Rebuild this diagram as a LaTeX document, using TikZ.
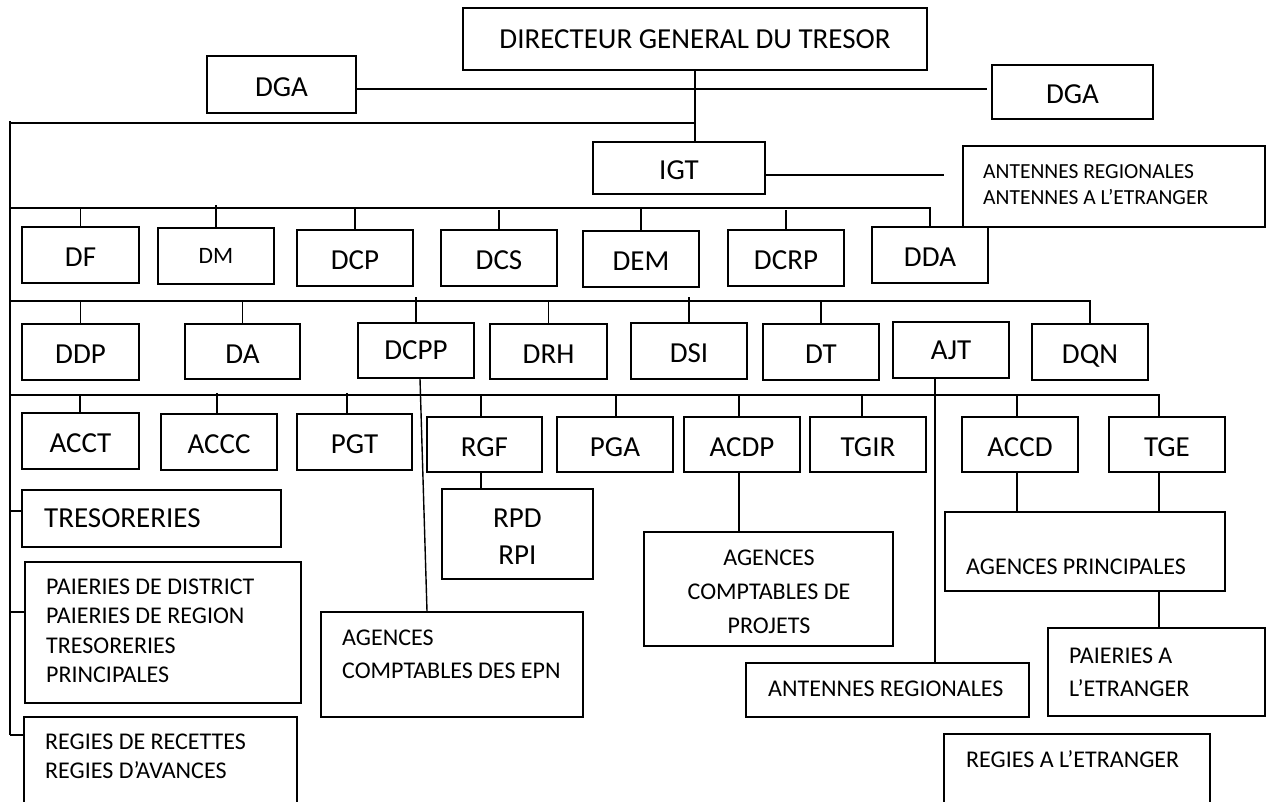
\documentclass[tikz,border=0pt]{standalone}
\usepackage{fontspec}
\setmainfont{Carlito}
\usetikzlibrary{fit}
\begin{document}
\begin{tikzpicture}[x=1pt,y=-1pt,
  box/.style={draw, line width=1.6pt, inner sep=0pt},
  big/.style={font=\fontsize{29}{34}\selectfont, text height=23.7pt, text depth=0pt},
  bigtop/.style={font=\fontsize{29}{34}\selectfont, text height=18.7pt, text depth=0pt},
  dmf/.style={font=\fontsize{23.5}{28}\selectfont, text height=15pt, text depth=0pt},
  mid/.style={font=\fontsize{24}{29}\selectfont, anchor=base west, inner sep=0pt},
  midc/.style={font=\fontsize{24}{29}\selectfont, anchor=base, inner sep=0pt},
  sml/.style={font=\fontsize{21.5}{26}\selectfont, anchor=base west, inner sep=0pt},
  bigt/.style={font=\fontsize{29}{34}\selectfont, anchor=base west, inner sep=0pt},
  bigc/.style={font=\fontsize{29}{34}\selectfont, text height=18.7pt, text depth=0pt, inner sep=0pt},
  ln/.style={line width=1.4pt}
]
\useasboundingbox (0,0) rectangle (1269,801);
\clip (0,0) rectangle (1269,801);

% top level
\node[box,bigtop,minimum width=464,minimum height=62] (dgt) at (695,39) {DIRECTEUR GENERAL DU TRESOR};
\node[box,big,minimum width=149,minimum height=57] (dgaL) at (281.5,84.5) {DGA};
\node[box,big,minimum width=161,minimum height=54] (dgaR) at (1072.5,92) {DGA};
\node[box,big,minimum width=172,minimum height=52] (igt) at (679,168) {IGT};
\node[box,fit={(963,146)(1265,227)}] (antA) {};
\node[sml] (antA1) at (983,178) {ANTENNES REGIONALES};
\node[sml] (antA2) at (983,204) {ANTENNES A L’ETRANGER};

% row 1
\node[box,big,minimum width=117,minimum height=56] (df) at (80.5,255) {DF};
\node[box,dmf,minimum width=116,minimum height=56] (dm) at (216,256) {DM};
\node[box,big,minimum width=116,minimum height=56] (dcp) at (355,258) {DCP};
\node[box,big,minimum width=116,minimum height=56] (dcs) at (499,258) {DCS};
\node[box,big,minimum width=116,minimum height=56] (dem) at (641,259) {DEM};
\node[box,big,minimum width=116,minimum height=56] (dcrp) at (786,258) {DCRP};
\node[box,big,minimum width=116,minimum height=56] (dda) at (930,255) {DDA};

% row 2
\node[box,big,minimum width=117,minimum height=56] (ddp) at (80.5,352) {DDP};
\node[box,big,minimum width=115,minimum height=55] (da) at (242.5,351.5) {DA};
\node[box,bigtop,minimum width=116,minimum height=55] (dcpp) at (416,350.5) {DCPP};
\node[box,big,minimum width=117,minimum height=55] (drh) at (548.5,351.5) {DRH};
\node[box,big,minimum width=116,minimum height=56] (dsi) at (689,351) {DSI};
\node[box,big,minimum width=116,minimum height=56] (dt) at (821,352) {DT};
\node[box,bigtop,minimum width=116,minimum height=56] (ajt) at (951,350) {AJT};
\node[box,big,minimum width=116,minimum height=56] (dqn) at (1090,352) {DQN};

% row 3
\node[box,big,minimum width=117,minimum height=56] (acct) at (80.5,441) {ACCT};
\node[box,big,minimum width=116,minimum height=56] (accc) at (219,442) {ACCC};
\node[box,big,minimum width=115,minimum height=56] (pgt) at (354.5,442) {PGT};
\node[box,big,minimum width=115,minimum height=55] (rgf) at (484.5,444.5) {RGF};
\node[box,big,minimum width=116,minimum height=55] (pga) at (615,444.5) {PGA};
\node[box,big,minimum width=116,minimum height=55] (acdp) at (742,444.5) {ACDP};
\node[box,big,minimum width=116,minimum height=55] (tgir) at (868,444.5) {TGIR};
\node[box,big,minimum width=116,minimum height=55] (accd) at (1020,444.5) {ACCD};
\node[box,big,minimum width=116,minimum height=55] (tge) at (1167,444.5) {TGE};

% lower boxes
\node[box,fit={(442,489)(593,579)}] (rpd) {};
\node[bigc] (rpd1) at (517.5,518) {RPD};
\node[bigc] (rpd2) at (517.5,555) {RPI};

\node[box,fit={(22,490)(281,547)}] (tres) {};
\node[bigt] (tres1) at (44,527.3) {TRESORERIES};

\node[box,fit={(25,562)(301,703)}] (paier) {};
\node[mid] (paier1) at (46,594.7) {PAIERIES DE DISTRICT};
\node[mid] (paier2) at (46,623.7) {PAIERIES DE REGION};
\node[mid] (paier3) at (46,653.7) {TRESORERIES};
\node[mid] (paier4) at (46,682.7) {PRINCIPALES};

\node[box,fit={(24,717)(297,830)}] (regies) {};
\node[mid] (regies1) at (45,749.7) {REGIES DE RECETTES};
\node[mid] (regies2) at (45,778.7) {REGIES D’AVANCES};

\node[box,fit={(321,612)(583,717)}] (epn) {};
\node[mid] (epn1) at (342,645.7) {AGENCES};
\node[mid] (epn2) at (342,678.7) {COMPTABLES DES EPN};

\node[box,fit={(644,532)(893,646)}] (apj) {};
\node[midc] (apj1) at (769,565.7) {AGENCES};
\node[midc] (apj2) at (769,599.7) {COMPTABLES DE};
\node[midc] (apj3) at (769,633.7) {PROJETS};

\node[box,fit={(945,512)(1225,591)}] (agp) {};
\node[mid] (agp1) at (966,574.7) {AGENCES PRINCIPALES};

\node[box,fit={(1048,628)(1265,716)}] (paiet) {};
\node[mid] (paiet1) at (1069,663.7) {PAIERIES A};
\node[mid] (paiet2) at (1069,696.7) {L’ETRANGER};

\node[box,fit={(746,663)(1029,717)}] (antR) {};
\node[mid] (antR1) at (768,696.7) {ANTENNES REGIONALES};

\node[box,fit={(944,734)(1210,830)}] (regE) {};
\node[mid] (regE1) at (966,767.7) {REGIES A L’ETRANGER};

% connectors: top
\coordinate (tk) at (695,123);
\coordinate (lt) at (10,121);
\coordinate (lb) at (10,735);
\draw[ln] (dgt.south -| tk) -- (igt.north -| tk);
\draw[ln] (lt) -- (lb);
\draw[ln] (lt |- tk) -- (tk);
\coordinate (dgaend) at (987,89);
\draw[ln] (dgaL.east |- dgaend) -- (dgaend);
\coordinate (igtend) at (944,175);
\draw[ln] (igt.east |- igtend) -- (igtend);

% bus 1
\coordinate (b1) at (10,208);
\draw[ln] (b1) -- (b1 -| dda.north) -- (dda.north);
\draw[ln] (b1 -| df.north) -- (df.north);
\draw[ln] (dm.north) -- ++(0,-22);
\draw[ln] (b1 -| dcp.north) -- (dcp.north);
\draw[ln] (dcs.north) -- ++(0,-19);
\draw[ln] (b1 -| dem.north) -- (dem.north);
\draw[ln] (dcrp.north) -- ++(0,-19);

% bus 2
\coordinate (b2) at (10,301);
\draw[ln] (b2) -- (b2 -| dqn.north) -- (dqn.north);
\draw[ln] (b2 -| ddp.north) -- (ddp.north);
\draw[ln] (b2 -| da.north) -- (da.north);
\draw[ln] (dcpp.north) -- ++(0,-25);
\draw[ln] (b2 -| drh.north) -- (drh.north);
\draw[ln] (dsi.north) -- ++(0,-25);
\draw[ln] (b2 -| dt.north) -- (dt.north);

% bus 3
\coordinate (b3) at (10,395);
\coordinate (sacct) at (80,395);
\coordinate (saccc) at (217,393);
\coordinate (spgt) at (347,393);
\coordinate (srgf) at (481,395);
\coordinate (spga) at (616,395);
\coordinate (sacdp) at (739,395);
\coordinate (stgir) at (862,395);
\coordinate (saccd) at (1017,395);
\coordinate (stge) at (1159,395);
\draw[ln] (b3) -- (stge) -- (stge |- tge.north);
\draw[ln] (sacct) -- (sacct |- acct.north);
\draw[ln] (saccc) -- (saccc |- accc.north);
\draw[ln] (spgt) -- (spgt |- pgt.north);
\draw[ln] (srgf) -- (srgf |- rgf.north);
\draw[ln] (spga) -- (spga |- pga.north);
\draw[ln] (sacdp) -- (sacdp |- acdp.north);
\draw[ln] (stgir) -- (stgir |- tgir.north);
\draw[ln] (saccd) -- (saccd |- accd.north);

% lower connectors
\draw[ln] (rgf.south -| srgf) -- (rpd.north -| srgf);
\draw[ln] (acdp.south -| sacdp) -- (apj.north -| sacdp);
\draw[ln] (accd.south -| saccd) -- (agp.north -| saccd);
\draw[ln] (tge.south -| stge) -- (agp.north -| stge);
\draw[ln] (agp.south -| stge) -- (paiet.north -| stge);
\coordinate (ajx) at (935,378);
\draw[ln] (ajt.south -| ajx) -- (antR.north -| ajx);
\coordinate (dcb) at (420,378);
\coordinate (dce) at (427,612);
\draw[ln] (dcpp.south -| dcb) -- (epn.north -| dce);
\coordinate (ctres) at (10,511);
\coordinate (cpaier) at (10,612);
\draw[ln] (ctres) -- (ctres -| tres.west);
\draw[ln] (cpaier) -- (cpaier -| paier.west);
\draw[ln] (lb) -- (lb -| regies.west);
\end{tikzpicture}
\end{document}
